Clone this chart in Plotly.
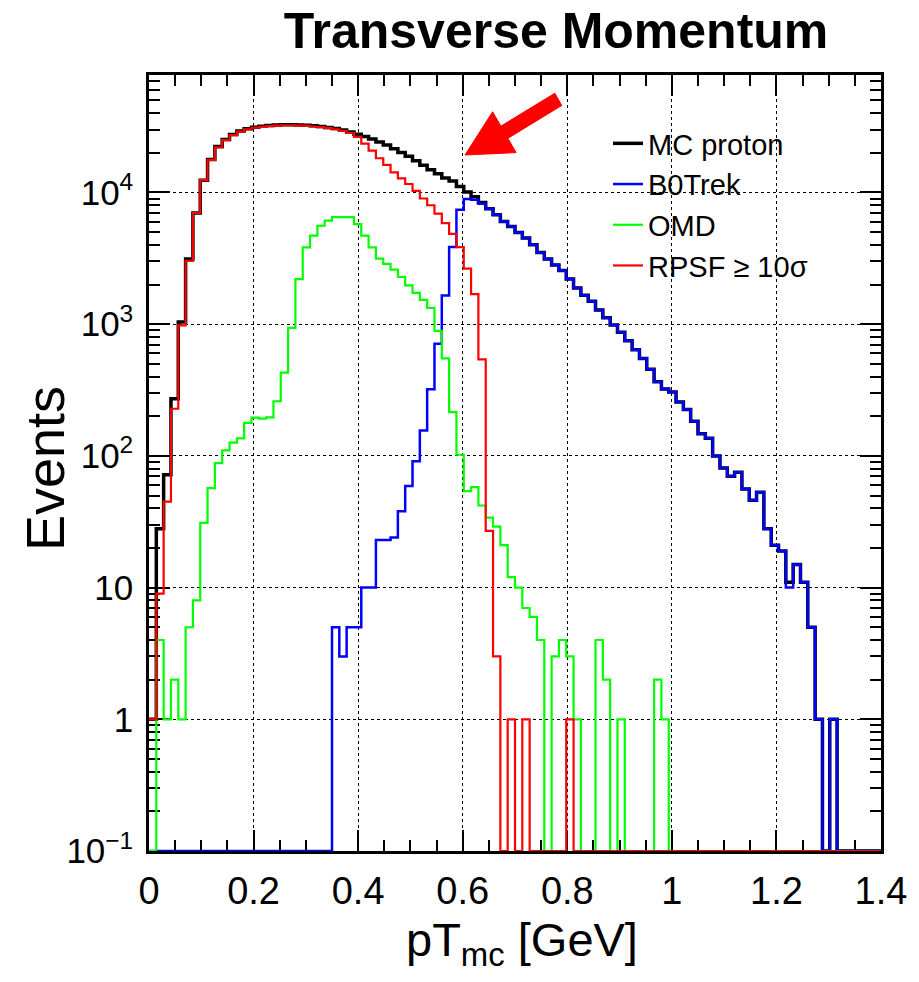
import numpy as np
import plotly.graph_objects as go

# ---------------- data (100 bins, 0 - 1.4 GeV) ----------------
x_low, x_high, n_bins = 0.0, 1.4, 100

mc_proton = [1, 28, 72, 272, 1040, 3120, 7000, 12400, 17800, 22300,
             25300, 27600, 29300, 30500, 31300, 31800, 32200, 32500, 32700, 32700,
             32600, 32400, 32100, 31700, 31200, 30600, 29800, 28800, 27700, 26600,
             25500, 24200, 22900, 21500, 20100, 18800, 17400, 16100, 14900, 13900,
             12900, 12200, 11100, 10100, 9300, 8400, 7520, 6770, 6030, 5520,
             4970, 4510, 4010, 3500, 3120, 2820, 2560, 2200, 1880, 1660,
             1490, 1280, 1120, 985, 870, 750, 640, 550, 455, 365,
             322, 305, 256, 225, 183, 147, 136, 100, 81, 70,
             75, 56, 46, 53, 28, 21, 19, 11, 15, 11,
             5, 1, 0, 1, 0, 0, 0, 0, 0, 0]

b0trek = [0, 0, 0, 0, 0, 0, 0, 0, 0, 0,
          0, 0, 0, 0, 0, 0, 0, 0, 0, 0,
          0, 0, 0, 0, 0, 5, 3, 5, 5, 10,
          10, 23, 23, 24, 38, 59, 91, 156, 321, 710,
          1650, 3850, 7400, 8920, 8800, 8200, 7520, 6770, 6030, 5520,
          4970, 4510, 4010, 3500, 3120, 2820, 2560, 2200, 1880, 1660,
          1490, 1280, 1120, 985, 870, 750, 640, 550, 455, 365,
          322, 305, 256, 225, 183, 147, 136, 100, 81, 70,
          75, 56, 46, 53, 28, 21, 19, 10, 15, 11,
          5, 1, 0, 1, 0, 0, 0, 0, 0, 0]

omd = [0, 4, 1, 2, 1, 5, 8, 31, 57, 88,
       110, 126, 136, 178, 195, 192, 196, 260, 428, 938,
       2200, 3830, 4700, 5590, 6120, 6500, 6500, 6500, 5760, 4700,
       3830, 3150, 2870, 2600, 2290, 1970, 1730, 1530, 1330, 890,
       550, 215, 102, 54, 58, 42, 34, 29, 21, 12,
       10, 7, 6, 4, 0, 3, 4, 3, 1, 0,
       0, 4, 2, 0, 1, 0, 0, 0, 0, 2,
       1, 0, 0, 0, 0, 0, 0, 0, 0, 0,
       0, 0, 0, 0, 0, 0, 0, 0, 0, 0,
       0, 0, 0, 0, 0, 0, 0, 0, 0, 0]

rpsf = [1, 9, 45, 228, 980, 3030, 7000, 12400, 17700, 22000,
        25000, 27300, 29000, 30200, 31000, 31500, 31900, 32200, 32400, 32400,
        32200, 32000, 31700, 31300, 30800, 30200, 29400, 28300, 26400, 23500,
        20800, 18200, 16200, 14200, 12800, 11600, 10300, 9000, 8000, 6900,
        5850, 4850, 3850, 2640, 1690, 541, 27, 3, 0, 1,
        0, 1, 0, 0, 0, 0, 0, 1, 0, 0,
        0, 0, 0, 0, 0, 0, 0, 0, 0, 0,
        0, 0, 0, 0, 0, 0, 0, 0, 0, 0,
        0, 0, 0, 0, 0, 0, 0, 0, 0, 0,
        0, 0, 0, 0, 0, 0, 0, 0, 0, 0]

series_names = ["MC proton", "B0Trek", "OMD", "RPSF \u2265 10\u03c3"]
x_tick_vals = [0, 0.2, 0.4, 0.6, 0.8, 1.0, 1.2, 1.4]
x_tick_text = ["0", "0.2", "0.4", "0.6", "0.8", "1", "1.2", "1.4"]
y_tick_vals = [0.1, 1, 10, 100, 1000, 10000]
y_tick_text = ["10<sup>\u22121</sup>", "1", "10", "10<sup>2</sup>", "10<sup>3</sup>", "10<sup>4</sup>"]
x_title = "pT<sub>mc</sub> [GeV]"
y_title = "Events"
chart_title = "Transverse Momentum"

# ---------------- styling ----------------
y_min = 0.1
y_log_max = 4.892
FONT = "Liberation Sans, Arial, Helvetica, sans-serif"
W, H = 919, 982
ML, MR, MT, MB = 149, 38, 75, 131
pw, ph = W - ML - MR, H - MT - MB


def px_to_paper(px, py):
    return (px - ML) / pw, (H - MB - py) / ph


edges = np.linspace(x_low, x_high, n_bins + 1)


def step_trace(vals, name, color, width):
    # ROOT draws empty bins on the frame minimum
    yv = [v if v > 0 else y_min for v in vals]
    yv = yv + [yv[-1]]
    return go.Scatter(x=edges, y=yv, mode="lines", line_shape="hv",
                      name=name, line=dict(color=color, width=width))


fig = go.Figure()
fig.add_trace(step_trace(mc_proton, series_names[0], "#000000", 3.5))
fig.add_trace(step_trace(b0trek, series_names[1], "#0000ff", 2.5))
fig.add_trace(step_trace(omd, series_names[2], "#00ff00", 2.2))
fig.add_trace(step_trace(rpsf, series_names[3], "#ff0000", 2.2))

minor_y = [m * 10.0 ** e for e in range(-1, 5) for m in range(2, 10) if m * 10.0 ** e < 10 ** y_log_max]

axis_common = dict(showline=True, linecolor="black", linewidth=2.5, mirror="allticks",
                   ticks="inside", ticklen=21, tickwidth=2, tickcolor="black",
                   showgrid=True, gridcolor="black", griddash="dot", gridwidth=1,
                   zeroline=False, layer="below traces")

fig.update_xaxes(range=[x_low, x_high], tickmode="array", tickvals=x_tick_vals, ticktext=x_tick_text,
                 minor=dict(dtick=0.05, tick0=0, ticks="inside", ticklen=11, tickwidth=2,
                            tickcolor="black", showgrid=False),
                 ticklabelstandoff=5,
                 tickfont=dict(family=FONT, size=38, color="black"),
                 **axis_common)
fig.update_yaxes(type="log", range=[-1, y_log_max], tickmode="array", tickvals=y_tick_vals,
                 ticktext=y_tick_text,
                 minor=dict(tickmode="array", tickvals=minor_y, ticks="inside", ticklen=11, tickwidth=2,
                            tickcolor="black", showgrid=False),
                 ticklabelstandoff=6,
                 tickfont=dict(family=FONT, size=35, color="black"),
                 **axis_common)

# axis titles as annotations for exact placement
xt = px_to_paper(522, 911)
fig.add_annotation(text=x_title, xref="paper", yref="paper", x=xt[0], y=xt[1],
                   xanchor="center", yanchor="top", showarrow=False,
                   font=dict(family=FONT, size=47, color="black"))
yt = px_to_paper(45, 469)
fig.add_annotation(text=y_title, xref="paper", yref="paper", x=yt[0], y=yt[1],
                   xanchor="center", yanchor="middle", textangle=-90, showarrow=False,
                   font=dict(family=FONT, size=54, color="black"))

# red arrow (decoration) defined in pixel space, converted to paper coords
arrow_px = [(465, 155), (516.2, 152.6), (507.9, 138.3), (561.8, 105.4),
            (554.8, 93.2), (500.9, 126.1), (492.6, 111.8)]
pts = [px_to_paper(px, py) for px, py in arrow_px]
path = "M " + " L ".join(f"{a:.4f},{b:.4f}" for a, b in pts) + " Z"
fig.add_shape(type="path", path=path, xref="paper", yref="paper",
              fillcolor="#ff0000", line=dict(color="#ff0000", width=1), layer="above")

fig.update_layout(
    width=W, height=H,
    margin=dict(l=ML, r=MR, t=MT, b=MB, autoexpand=False),
    paper_bgcolor="white", plot_bgcolor="white",
    font=dict(family=FONT, color="black"),
    title=dict(text=chart_title, x=556 / W, xanchor="center", xref="container",
               y=1 - 30 / H, yanchor="middle", yref="container",
               font=dict(family=FONT, size=50, color="black", weight="bold")),
    legend=dict(x=(608 - ML) / pw, y=(H - MB - 118) / ph, xanchor="left", yanchor="top",
                bgcolor="rgba(0,0,0,0)", borderwidth=0,
                font=dict(family=FONT, size=29, color="black"),
                itemwidth=30, tracegroupgap=0),
    showlegend=True,
)

fig.write_html("out.html")
